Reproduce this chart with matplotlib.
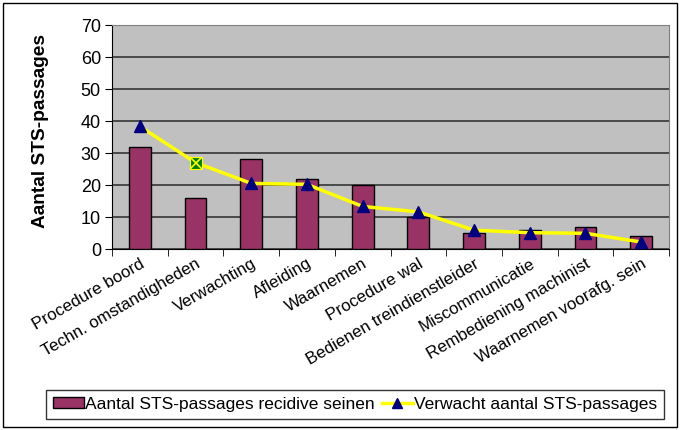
import matplotlib
matplotlib.use("Agg")
import matplotlib.pyplot as plt
import numpy as np
from matplotlib.lines import Line2D
from matplotlib.patches import Rectangle

plt.rcParams['font.family'] = ['Liberation Sans', 'DejaVu Sans']

categories = ["Procedure boord", "Techn. omstandigheden", "Verwachting", "Afleiding",
              "Waarnemen", "Procedure wal", "Bedienen treindienstleider",
              "Miscommunicatie", "Rembediening machinist", "Waarnemen voorafg. sein"]
bars = [32, 16, 28, 22, 20, 10, 5, 6, 7, 4]
expected = [38.3, 27.0, 20.5, 20.2, 13.3, 11.6, 5.9, 5.1, 4.9, 2.2]
yticks = [0, 10, 20, 30, 40, 50, 60, 70]

fig = plt.figure(figsize=(6.8, 4.3), dpi=100)
ax = fig.add_axes([112/680, 1-249/430, (669-112)/680, (249-25)/430])
ax.set_facecolor('#C0C0C0')

x = np.arange(len(categories))
ax.bar(x, bars, width=0.39, color='#993366', edgecolor='black', linewidth=1, zorder=3)
ax.plot(x, expected, color='#FFFF00', linewidth=2.5, zorder=4)
mk = [i for i in range(len(x)) if i != 1]
ax.plot(x[mk], np.array(expected)[mk], linestyle='none', marker='^', markersize=8,
        color='#000080', zorder=5)
ax.plot([x[1]], [expected[1]], linestyle='none', marker='s', markersize=9,
        markerfacecolor='#008000', markeredgecolor='#FFFF00', markeredgewidth=0.8, zorder=5)
ax.plot([x[1]], [expected[1]], linestyle='none', marker='x', markersize=8,
        color='#FFFF00', markeredgewidth=1.2, zorder=6)

ax.set_xlim(-0.5, len(x) - 0.5)
ax.set_ylim(0, 70)
ax.set_yticks(yticks)
ax.yaxis.grid(True, color='#404040', linewidth=1.3, zorder=1)
ax.set_axisbelow(True)

ax.set_xticks(x)
ax.set_xticklabels(categories, rotation=30, ha='right', va='top', rotation_mode='anchor',
                   fontsize=12.2)
ax.tick_params(axis='x', which='major', length=0, pad=5)
ax.set_xticks(np.arange(-0.5, len(x), 1), minor=True)
ax.tick_params(axis='x', which='minor', length=5, direction='out', color='black')
ax.tick_params(axis='y', length=5, direction='out', labelsize=13, pad=3)

for s in ['top', 'right']:
    ax.spines[s].set_color('#808080')
for s in ['left', 'bottom']:
    ax.spines[s].set_color('black')

ax.set_ylabel("Aantal STS-passages", fontsize=13.8, fontweight='bold')
ax.yaxis.set_label_coords(-0.113, 0.527)

handles = [Rectangle((0, 0), 1, 1, facecolor='#993366', edgecolor='black'),
           Line2D([0], [0], color='#FFFF00', linewidth=2.5, marker='^',
                  markerfacecolor='#000080', markeredgecolor='#000080', markersize=7)]
leg = fig.legend(handles, ["Aantal STS-passages recidive seinen", "Verwacht aantal STS-passages"],
                 loc='center', bbox_to_anchor=(355/680, 1-404.5/430), ncol=2, frameon=True,
                 fancybox=False, edgecolor='black', fontsize=12.5, handlelength=1.8,
                 handleheight=0.6, handletextpad=0.05, columnspacing=0.4, borderpad=0.4)
leg.get_frame().set_linewidth(1)

fig.patches.append(Rectangle((3/680, 3/430), 674/680, 424/430, transform=fig.transFigure,
                             fill=False, edgecolor='black', linewidth=1))

fig.savefig("out.png", dpi=100)
